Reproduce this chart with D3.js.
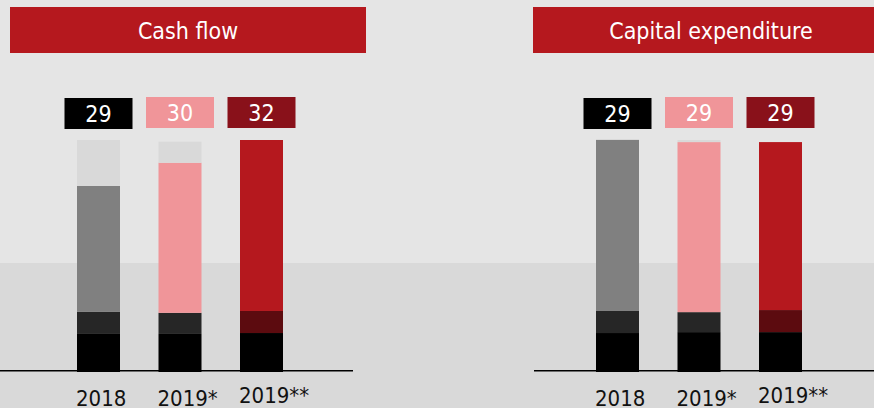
<!DOCTYPE html>
<html>
<head>
<meta charset="utf-8">
<script src="https://cdn.jsdelivr.net/npm/d3@7"></script>
<style>
    html, body { margin: 0; padding: 0; background: #e5e5e5; }
    svg { display: block; font-family: "DejaVu Sans Condensed", "DejaVu Sans", sans-serif; font-stretch: condensed; }
</style>
</head>
<body>
<div id="viewer"></div>
<script>
// Data (segment shares of each bar, bottom to top)
const categories = ['2018', '2019*', '2019**'];

const cashTotals = [29, 30, 32];
const cashBase = [16.4, 16.4, 16.8];
const cashSecond = [9.5, 9.1, 9.5];
const cashMain = [54.3, 64.7, 73.7];
const cashRest = [19.8, 9.1, 0];

const capexTotals = [29, 29, 29];
const capexBase = [16.8, 17.2, 17.2];
const capexSecond = [9.5, 8.6, 9.5];
const capexMain = [73.7, 73.3, 72.4];
const capexRest = [0.4, 0.9, 0];

const segmentKeys = ['base', 'second', 'main', 'rest'];
const mainColors = ['#808080', '#f09599', '#b5181e'];
const secondColors = ['#262626', '#262626', '#5c0b0f'];
const boxColors = ['#000000', '#f09599', '#89111a'];

const width = 874;
const height = 408;

const panels = [
    { title: 'Cash flow', totals: cashTotals, base: cashBase, second: cashSecond, main: cashMain, rest: cashRest,
      banner: [10, 366], axis: [0, 353], bars: [77, 283], titleX: 188 },
    { title: 'Capital expenditure', totals: capexTotals, base: capexBase, second: capexSecond, main: capexMain, rest: capexRest,
      banner: [533, 874], axis: [534, 874], bars: [596, 802], titleX: 711 }
];

const svg = d3.select('#viewer').append('svg')
    .attr('width', width)
    .attr('height', height);

// background bands
svg.append('rect').attr('x', 0).attr('y', 0).attr('width', width).attr('height', 263).attr('fill', '#e5e5e5');
svg.append('rect').attr('x', 0).attr('y', 263).attr('width', width).attr('height', height - 263).attr('fill', '#d9d9d9');

const yScale = d3.scaleLinear().domain([0, 100]).range([372, 140]);

panels.forEach(panel => {
    const g = svg.append('g');

    // title banner
    g.append('rect')
        .attr('x', panel.banner[0]).attr('y', 7)
        .attr('width', panel.banner[1] - panel.banner[0]).attr('height', 46)
        .attr('fill', '#b5181e');
    g.append('text')
        .attr('x', panel.titleX).attr('y', 39)
        .attr('text-anchor', 'middle')
        .attr('fill', '#fff')
        .attr('font-size', 23)
        .text(panel.title);

    const xScale = d3.scaleBand().domain(categories).range(panel.bars).paddingInner(0.4724).paddingOuter(0);

    const rows = categories.map((c, i) => ({
        category: c,
        index: i,
        base: panel.base[i],
        second: panel.second[i],
        main: panel.main[i],
        rest: panel.rest[i]
    }));
    const stacked = d3.stack().keys(segmentKeys)(rows);

    const segColor = (key, i) => {
        if (key === 'base') return '#000000';
        if (key === 'second') return secondColors[i];
        if (key === 'main') return mainColors[i];
        return '#d9d9d9';
    };

    stacked.forEach(layer => {
        g.append('g').selectAll('rect')
            .data(layer)
            .join('rect')
            .attr('x', d => xScale(d.data.category))
            .attr('y', d => yScale(d[1]))
            .attr('width', xScale.bandwidth())
            .attr('height', d => yScale(d[0]) - yScale(d[1]))
            .attr('fill', d => segColor(layer.key, d.data.index));
    });

    // axis line
    g.append('line')
        .attr('x1', panel.axis[0]).attr('x2', panel.axis[1])
        .attr('y1', 370.7).attr('y2', 370.7)
        .attr('stroke', '#000')
        .attr('stroke-width', 1.5);

    // category labels
    g.selectAll('text.cat')
        .data(categories)
        .join('text')
        .attr('class', 'cat')
        .attr('x', d => xScale(d) - 1)
        .attr('y', (d, i) => i === 2 ? 403 : 406)
        .attr('fill', '#111')
        .attr('font-size', 22)
        .text(d => d);

    // total boxes
    const boxW = 68;
    const boxes = g.selectAll('g.box')
        .data(panel.totals)
        .join('g')
        .attr('class', 'box')
        .attr('transform', (d, i) => `translate(${xScale(categories[i]) + xScale.bandwidth() / 2},${i === 0 ? 98 : 97})`);
    boxes.append('rect')
        .attr('x', -boxW / 2).attr('y', 0)
        .attr('width', boxW).attr('height', 31)
        .attr('fill', (d, i) => boxColors[i]);
    boxes.append('text')
        .attr('x', 0).attr('y', 24)
        .attr('text-anchor', 'middle')
        .attr('fill', '#fff')
        .attr('font-size', 23)
        .text(d => d);
});
</script>
</body>
</html>
